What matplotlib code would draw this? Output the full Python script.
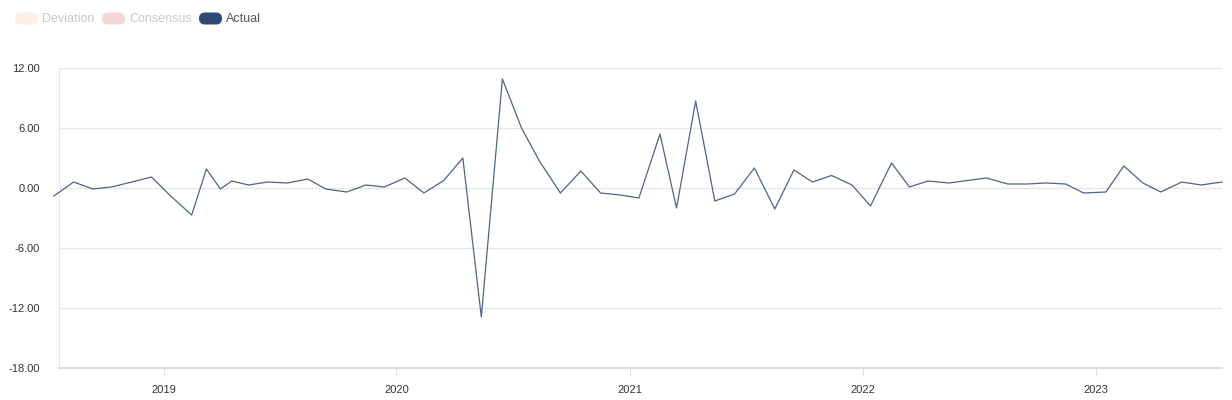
import pandas as pd
import matplotlib
matplotlib.use("Agg")
from matplotlib import pyplot as plt
from matplotlib.patches import FancyBboxPatch

# release dates and actual values
dates = ["2018-07-13", "2018-08-13", "2018-09-12", "2018-10-11", "2018-11-12", "2018-12-13",
         "2019-01-12", "2019-02-14", "2019-03-09", "2019-03-31", "2019-04-18", "2019-05-14",
         "2019-06-13", "2019-07-14", "2019-08-15", "2019-09-12", "2019-10-15", "2019-11-14",
         "2019-12-13", "2020-01-14", "2020-02-13", "2020-03-15", "2020-04-14", "2020-05-13",
         "2020-06-15", "2020-07-15", "2020-08-12", "2020-09-14", "2020-10-16", "2020-11-16",
         "2020-12-17", "2021-01-15", "2021-02-17", "2021-03-15", "2021-04-14", "2021-05-14",
         "2021-06-14", "2021-07-15", "2021-08-16", "2021-09-15", "2021-10-14", "2021-11-13",
         "2021-12-15", "2022-01-13", "2022-02-15", "2022-03-15", "2022-04-13", "2022-05-16",
         "2022-06-14", "2022-07-14", "2022-08-16", "2022-09-15", "2022-10-15", "2022-11-15",
         "2022-12-13", "2023-01-17", "2023-02-14", "2023-03-16", "2023-04-13", "2023-05-16",
         "2023-06-15", "2023-07-18"]
actual = [-0.8, 0.6, -0.1, 0.1, 0.6, 1.1,
          -0.8, -2.7, 1.9, -0.1, 0.7, 0.3,
          0.6, 0.5, 0.9, -0.1, -0.4, 0.3,
          0.1, 1.0, -0.5, 0.75, 3.0, -12.9,
          10.9, 6.0, 2.7, -0.5, 1.7, -0.5,
          -0.7, -1.0, 5.4, -2.0, 8.7, -1.3,
          -0.6, 2.0, -2.1, 1.8, 0.6, 1.25,
          0.3, -1.8, 2.5, 0.1, 0.7, 0.5,
          0.75, 1.0, 0.4, 0.4, 0.5, 0.4,
          -0.5, -0.4, 2.2, 0.5, -0.4, 0.6,
          0.3, 0.6]

y_ticks = [-18, -12, -6, 0, 6, 12]
year_ticks = ["2019", "2020", "2021", "2022", "2023"]

legend_names = ["Deviation", "Consensus", "Actual"]
legend_colors = ["#fcefe4", "#f5d6d6", "#2c4a73"]
legend_text_colors = ["#c8c8c8", "#c8c8c8", "#555555"]

plt.rcParams["font.family"] = ["Liberation Sans", "DejaVu Sans"]

W, H = 1232, 400
fig = plt.figure(figsize=(W / 100, H / 100), dpi=100)
ax = fig.add_axes([59 / W, 32 / H, (1222 - 59) / W, 300 / H])

x = pd.to_datetime(dates)
ax.plot(x, actual, color="#4d6489", lw=0.9, clip_on=False, zorder=3)

ax.set_ylim(-18, 12)
ax.set_yticks(y_ticks)
ax.set_yticklabels([f"{v:.2f}" for v in y_ticks])
ax.set_xlim(pd.Timestamp("2018-07-21"), pd.Timestamp("2023-07-18"))
ax.set_xticks(pd.to_datetime([y + "-01-01" for y in year_ticks]))
ax.set_xticklabels(year_ticks)

ax.grid(axis="y", color="#e6e6e6", lw=1)
ax.set_axisbelow(True)
for s in ["top", "right"]:
    ax.spines[s].set_visible(False)
ax.spines["left"].set_color("#e6e6e6")
ax.spines["bottom"].set_color("#dcdcdc")
ax.spines["bottom"].set_linewidth(1.5)
ax.tick_params(axis="y", length=0, pad=14, labelsize=8, labelcolor="#333333")
ax.tick_params(axis="x", length=6, color="#e0e0e0", pad=6, labelsize=8, labelcolor="#333333")

# pill legend at the top left, drawn on an overlay in pixel units
lax = fig.add_axes([0, 0, 1, 1], zorder=5)
lax.set_xlim(0, W)
lax.set_ylim(H, 0)
lax.axis("off")
pill_x = [15, 102, 199]
for px, name, c, tc in zip(pill_x, legend_names, legend_colors, legend_text_colors):
    pill = FancyBboxPatch((px, 12.5), 23, 12,
                          boxstyle="round,pad=0,rounding_size=6",
                          facecolor=c, edgecolor="none")
    lax.add_patch(pill)
    lax.text(px + 27, 18.5, name, color=tc, fontsize=9, va="center", ha="left")

fig.savefig("out.png", dpi=100)
